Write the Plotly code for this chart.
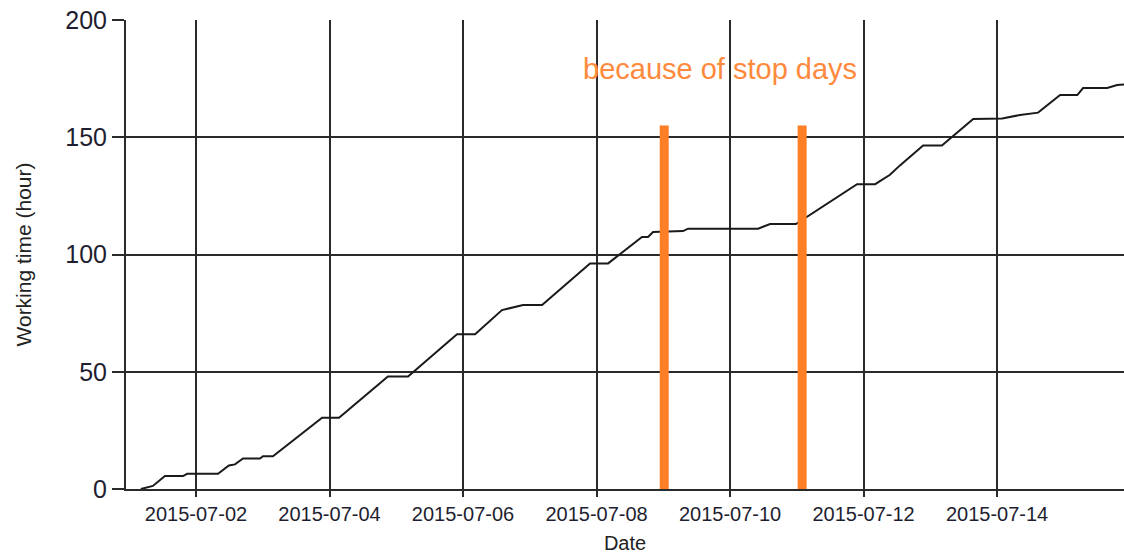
import plotly.graph_objects as go

# Cumulative working time (hours) vs date
dates = [
    "2015-07-01 04:10", "2015-07-01 08:30", "2015-07-01 12:50", "2015-07-01 19:20",
    "2015-07-01 20:50", "2015-07-02 07:55", "2015-07-02 11:50", "2015-07-02 14:00",
    "2015-07-02 16:55", "2015-07-02 23:00", "2015-07-03 00:05", "2015-07-03 03:40",
    "2015-07-03 21:20", "2015-07-04 03:25", "2015-07-04 21:00", "2015-07-05 04:15",
    "2015-07-05 21:50", "2015-07-06 04:20", "2015-07-06 14:00", "2015-07-06 21:35",
    "2015-07-07 04:25", "2015-07-07 21:40", "2015-07-08 04:10", "2015-07-08 16:20",
    "2015-07-08 18:30", "2015-07-08 20:20", "2015-07-09 07:05", "2015-07-09 08:55",
    "2015-07-10 10:05", "2015-07-10 14:25", "2015-07-10 23:40", "2015-07-11 21:40",
    "2015-07-12 04:10", "2015-07-12 09:30", "2015-07-12 13:05", "2015-07-12 21:25",
    "2015-07-13 04:10", "2015-07-13 15:25", "2015-07-14 01:50", "2015-07-14 05:45",
    "2015-07-14 08:15", "2015-07-14 14:45", "2015-07-14 22:40", "2015-07-15 04:50",
    "2015-07-15 06:55", "2015-07-15 15:35", "2015-07-15 19:10", "2015-07-15 21:40",
]
hours = [
    0, 1.3, 5.5, 5.5,
    6.5, 6.5, 10, 10.5,
    13, 13, 14, 14,
    30.4, 30.4, 48, 48,
    66, 66, 76.3, 78.5,
    78.5, 96.2, 96.2, 107.5,
    107.5, 109.6, 110, 111,
    111, 113, 113, 130,
    130, 134, 138, 146.5,
    146.5, 157.8, 158, 158.8,
    159.5, 160.5, 168, 168,
    171, 171, 172.3, 172.5,
]

# Orange markers for the stop days
stop_days = ["2015-07-09 00:20", "2015-07-11 01:55"]
stop_height = 155
note_text = "because of stop days"
note_date = "2015-07-09 20:20"
note_value = 179.0

x_range = ["2015-06-30 22:50", "2015-07-15 21:38"]
y_ticks = [0, 50, 100, 150, 200]

ORANGE = "#FF7F27"
FONT = "Liberation Sans, Arial, sans-serif"
GRID = "#2a2a2a"

fig = go.Figure()

fig.add_trace(go.Scatter(
    x=dates, y=hours, mode="lines",
    line=dict(color="#1a1a1a", width=2),
    showlegend=False, hoverinfo="skip",
))

for d in stop_days:
    fig.add_trace(go.Scatter(
        x=[d, d], y=[0, stop_height], mode="lines",
        line=dict(color=ORANGE, width=9),
        showlegend=False, hoverinfo="skip",
    ))

fig.add_annotation(
    x=note_date, y=note_value, text=note_text, showarrow=False,
    font=dict(family=FONT, size=29, color="#FF8A3D"),
    xanchor="center", yanchor="middle",
)

fig.update_layout(
    width=1124, height=558,
    margin=dict(l=126, r=0, t=20, b=69),
    paper_bgcolor="white", plot_bgcolor="white",
    font=dict(family=FONT, color="#222222"),
    xaxis=dict(
        type="date", range=x_range,
        tick0="2015-07-02", dtick=2 * 86400000, tickformat="%Y-%m-%d",
        showgrid=True, gridcolor=GRID, gridwidth=2,
        ticks="outside", ticklen=6, tickwidth=2, tickcolor=GRID,
        showline=True, linecolor=GRID, linewidth=2,
        tickfont=dict(size=20, color="#1e1e30"),
        title=dict(text="Date", font=dict(size=20, color="#222222"), standoff=12),
        zeroline=False,
    ),
    yaxis=dict(
        range=[0, 200], tickvals=y_ticks,
        showgrid=True, gridcolor=GRID, gridwidth=2,
        ticks="outside", ticklen=12, tickwidth=2, tickcolor=GRID,
        showline=True, linecolor=GRID, linewidth=2,
        tickfont=dict(size=25, color="#1e1e30"),
        title=dict(text="Working time (hour)", font=dict(size=21, color="#222222"), standoff=28),
        zeroline=False,
    ),
)

fig.write_html(
    "out.html",
    config={"displayModeBar": False},
    post_script="document.body.style.margin='0';document.body.style.overflow='hidden';",
)
